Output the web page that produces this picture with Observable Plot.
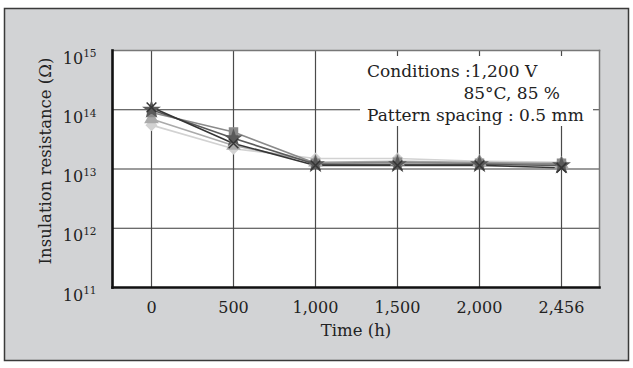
<!DOCTYPE html>
<html><head><meta charset="utf-8">
<script src="https://cdn.jsdelivr.net/npm/d3@7"></script>
<script src="https://cdn.jsdelivr.net/npm/@observablehq/plot@0.6"></script>
<style>
html,body{margin:0;padding:0;background:#fff;}
#wrap{width:633px;height:368px;}
</style></head><body><div id="wrap"></div>
<script>
const timeLabels = ["0","500","1,000","1,500","2,000","2,456"];
const seriesNames = ["S5","S4","S2","S3","S1"];
const seriesColors = ["#d2d2d2","#aaaaaa","#8a8a8a","#5a5a5a","#353535"];
const seriesSymbols = ["diamond2","triangle","square","star","times"];
const s1 = [1.1e14, 2.7e13, 1.15e13, 1.15e13, 1.15e13, 1.05e13];
const s2 = [9.0e13, 4.2e13, 1.25e13, 1.3e13, 1.25e13, 1.25e13];
const s3 = [1.0e14, 3.3e13, 1.2e13, 1.2e13, 1.2e13, 1.15e13];
const s4 = [7.0e13, 2.5e13, 1.3e13, 1.35e13, 1.3e13, 1.2e13];
const s5 = [5.5e13, 2.2e13, 1.5e13, 1.5e13, 1.35e13, 1.3e13];
const yTicks = [1e11, 1e12, 1e13, 1e14, 1e15];
const yExponents = ["11","12","13","14","15"];
const xTitle = "Time (h)";
const yTitle = "Insulation resistance (Ω)";
const noteLines = ["Conditions :1,200 V", "85°C, 85 %", "Pattern spacing : 0.5 mm"];

const seriesValues = {S1: s1, S2: s2, S3: s3, S4: s4, S5: s5};
const rows = [];
for (const s of seriesNames) seriesValues[s].forEach((v, i) => rows.push({s, t: timeLabels[i], v}));

const FONT = "'DejaVu Serif', serif";
const chart = Plot.plot({
  width: 633, height: 368,
  marginLeft: 112, marginRight: 34, marginTop: 50, marginBottom: 81,
  style: {background: "transparent", fontFamily: FONT, fontSize: "16px", color: "#222"},
  x: {type: "point", domain: timeLabels, padding: 0.46, label: null},
  y: {type: "log", domain: [1e11, 1e15], label: null},
  color: {domain: seriesNames, range: seriesColors},
  symbol: {domain: seriesNames, range: seriesSymbols},
  marks: [
    Plot.ruleY(yTicks.slice(1, -1), {stroke: "#3a3a3a", strokeWidth: 1.2}),
    Plot.ruleX(timeLabels, {stroke: "#4a4a4a", strokeWidth: 1.2}),
    Plot.line(rows, {x: "t", y: "v", z: "s", stroke: "s", strokeWidth: 1.6}),
    Plot.dot(rows, {x: "t", y: "v", symbol: "s", fill: "s", stroke: "s", r: 4.5}),
    Plot.frame({anchor: "top", stroke: "#777", strokeWidth: 1.5}),
    Plot.frame({anchor: "right", stroke: "#777", strokeWidth: 1.5}),
    Plot.frame({anchor: "left", stroke: "#111", strokeWidth: 2.6}),
    Plot.frame({anchor: "bottom", stroke: "#111", strokeWidth: 2.6}),
    Plot.axisX({tickSize: 0, tickPadding: 14, label: null, fontSize: 16}),
    Plot.axisY({ticks: yTicks, tickSize: 0, tickPadding: 16, label: null, tickFormat: () => "10", fontSize: 16}),
    Plot.text([xTitle], {frameAnchor: "bottom", dy: 48, fontSize: 16.5, fill: "#222"}),
    Plot.text([yTitle], {frameAnchor: "left", textAnchor: "middle", dx: -67, dy: -8, rotate: -90, fontSize: 16.5, fill: "#222"})
  ]
});

const svg = d3.select(chart);
// superscript exponents on y tick labels
svg.selectAll("g[aria-label='y-axis tick label'] text").each(function(d, i) {
  const t = d3.select(this);
  t.attr("dy", "0.5em");
  t.append("tspan").attr("dy", "-0.6em").attr("font-size", 10.5).text(yExponents[i]);
});

// outer background with border (behind everything)
svg.insert("rect", ":first-child")
  .attr("x", 4.5).attr("y", 8.5).attr("width", 624).attr("height", 352)
  .attr("fill", "#d2d3d5").attr("stroke", "#3a3a3a").attr("stroke-width", 1.5);
// white plot area
svg.insert("rect", ":nth-child(2)")
  .attr("x", 112).attr("y", 50).attr("width", 487).attr("height", 237).attr("fill", "#fff");

// conditions note box
const note = svg.append("g").attr("font-family", FONT).attr("font-size", 17).attr("fill", "#222").attr("text-anchor", "start");
note.append("rect").attr("x", 360).attr("y", 56).attr("width", 233).attr("height", 70).attr("fill", "#fff");
note.append("text").attr("x", 367).attr("y", 77).attr("text-anchor", "start").text(noteLines[0]);
note.append("text").attr("x", 560).attr("y", 99).attr("text-anchor", "end").text(noteLines[1]);
note.append("text").attr("x", 367).attr("y", 121).attr("text-anchor", "start").text(noteLines[2]);

document.getElementById("wrap").appendChild(chart);
</script></body></html>
